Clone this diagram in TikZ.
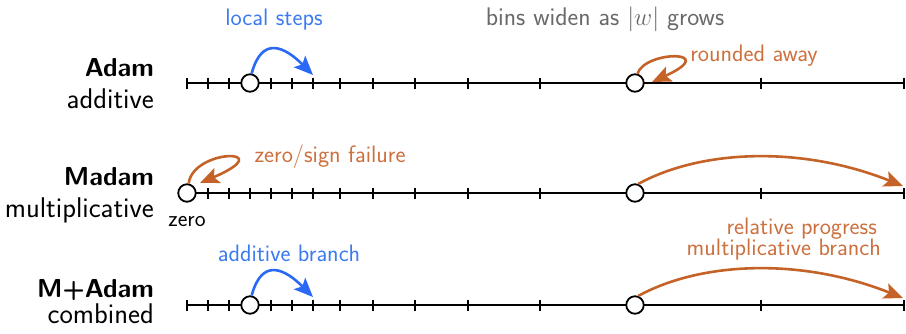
\documentclass[tikz,border=0pt]{standalone}
\usetikzlibrary{arrows.meta}
\definecolor{stepblue}{RGB}{41,105,246}
\definecolor{txtblue}{RGB}{60,122,240}
\definecolor{rndorange}{RGB}{196,98,40}
\definecolor{txtorange}{RGB}{204,112,62}
\definecolor{notegray}{RGB}{105,105,105}
\begin{document}
\begin{tikzpicture}[x=1pt,y=-1pt,
  axisline/.style={line width=2.2pt},
  tickmark/.style={line width=1.8pt},
  pt/.style={circle,draw,fill=white,line width=1.8pt,minimum size=17.5pt,inner sep=0pt},
  rowname/.style={font=\fontsize{26}{30}\selectfont\sffamily\bfseries,anchor=base east,inner sep=0pt},
  rowkind/.style={font=\fontsize{28.5}{32}\selectfont\sffamily,anchor=base east,inner sep=0pt},
  note/.style={font=\fontsize{23.8}{27}\selectfont\sffamily,anchor=base,inner sep=0pt},
  arr/.style={line width=2.6pt,-{Stealth[length=19pt,width=16pt,inset=4pt]}},
  bluearr/.style={arr,draw=stepblue},
  orgarr/.style={arr,draw=rndorange}
]
\useasboundingbox (0,0) rectangle (906,333);

% three number lines with the same (widening) bins
\foreach \r/\y in {A/83,M/193,C/305}{
  \coordinate (\r0) at (187,\y);
  \coordinate (\r1) at (904,\y);
  \draw[axisline] (\r0) -- (\r1);
  \foreach \x in {187,208,229,250,271,292,313,340,373,415,468,540,635,761,904}
    \draw[tickmark] (\x,\y-5.5) -- (\x,\y+5.5);
}

% row labels
\node[rowname] (nA) at (154,76) {Adam};
\node[rowkind] (kA) at (154,108) {additive};
\node[rowname] (nM) at (154,185) {Madam};
\node[rowkind] (kM) at (154,217) {multiplicative};
\node[rowname] (nC) at (154,297) {M+Adam};
\node[rowkind] (kC) at (154,323) {combined};

% weights on the lines
\node[pt] (aL) at (250,83) {};
\node[pt] (aR) at (635,83) {};
\node[pt] (mZ) at (187,193) {};
\node[pt] (mR) at (635,193) {};
\node[pt] (cL) at (250,305) {};
\node[pt] (cR) at (635,305) {};

% arrow targets
\coordinate (aLend) at (313,75);
\coordinate (aRend) at (652,82);
\coordinate (mZend) at (200,183);
\coordinate (mRend) at (903,186);
\coordinate (cLend) at (313,297);
\coordinate (cRend) at (903,298);

% Adam
\draw[bluearr] (aL.80) .. controls (262,35) and (285,47) .. (aLend);
\draw[orgarr] (aR.75) .. controls (645,50) and (722,50) .. (aRend);
% Madam
\draw[orgarr] (mZ.80) .. controls (193,148) and (282,148) .. (mZend);
\draw[orgarr] (mR.70) .. controls (700,150) and (800,145) .. (mRend);
% M+Adam
\draw[bluearr] (cL.80) .. controls (262,257) and (285,269) .. (cLend);
\draw[orgarr] (cR.70) .. controls (700,262) and (800,257) .. (cRend);

% annotations
\node[note,text=txtblue] (tLocal) at (274,25) {local steps};
\node[note,text=notegray,font=\fontsize{25.5}{29}\selectfont\sffamily] (tBins) at (605,25) {bins widen as $|w|$ grows};
\node[note,text=txtorange] (tRound) at (754,61) {rounded away};
\node[note,text=txtorange] (tZero) at (330,162) {zero/sign failure};
\node[note,font=\fontsize{23}{27}\selectfont\sffamily] (tZ) at (187,226) {zero};
\node[note,text=txtblue] (tAdd) at (289,261) {additive branch};
\node[note,text=txtorange,anchor=base east] (tRel) at (877,234.5) {relative progress};
\node[note,text=txtorange,anchor=base east] (tMul) at (881,255.5) {multiplicative branch};
\end{tikzpicture}
\end{document}
